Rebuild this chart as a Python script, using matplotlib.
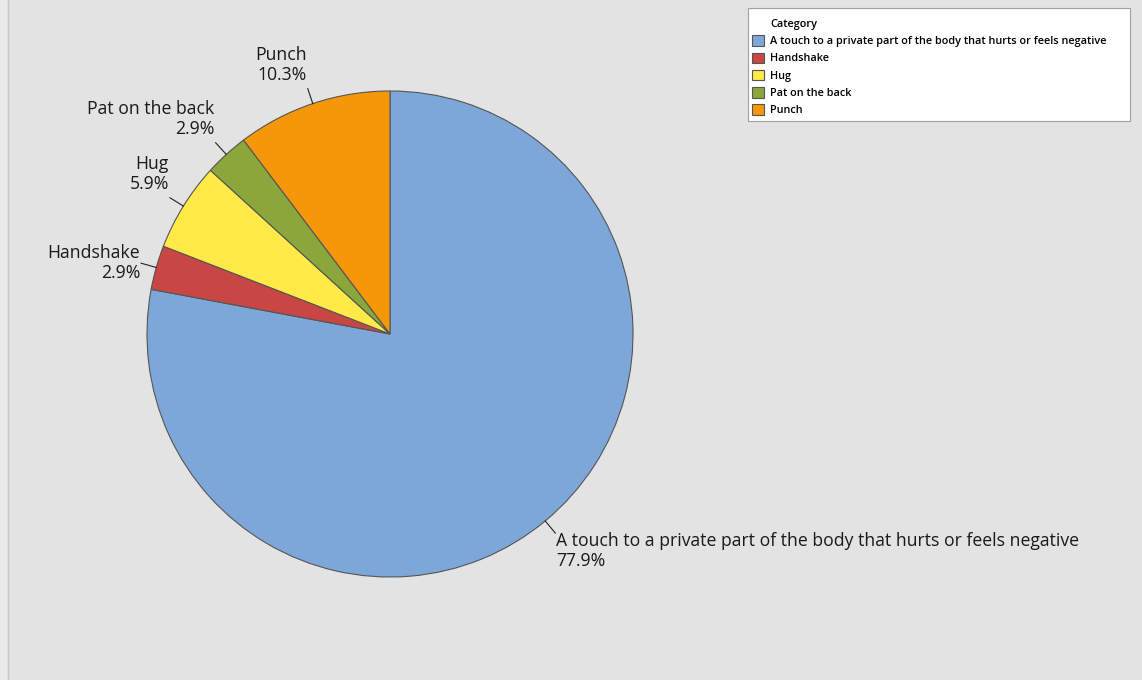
import matplotlib.pyplot as plt
import matplotlib.patches as mpatches
import numpy as np

plt.rcParams['font.family'] = ['Open Sans', 'DejaVu Sans']

# Counts per category
categories = ["A touch to a private part of the body that hurts or feels negative",
              "Handshake", "Hug", "Pat on the back", "Punch"]
counts = [53, 2, 4, 2, 7]
colors = ['#7DA7D9', '#C84744', '#FFEA47', '#8BA63A', '#F59709']

bg = '#E3E3E3'
W, H = 1142, 680
fig = plt.figure(figsize=(W / 100, H / 100), dpi=100)
fig.patch.set_facecolor(bg)

# thin lighter strip on the left edge
fig.patches.append(mpatches.Rectangle((0, 0), 7 / W, 1, transform=fig.transFigure,
                                      facecolor='#EAEAEA', edgecolor='none'))
fig.add_artist(plt.Line2D([7.5 / W, 7.5 / W], [0, 1], transform=fig.transFigure,
                          color='#C8C8C8', lw=1))

ax = fig.add_axes([147 / W, 103 / H, 486 / W, 486 / H])
ax.set_facecolor(bg)
wedges, _ = ax.pie(counts, colors=colors, startangle=90, counterclock=False,
                   wedgeprops=dict(edgecolor='#555555', linewidth=0.8))
ax.set_xlim(-1, 1)
ax.set_ylim(-1, 1)
ax.axis('off')

total = sum(counts)
for w, name, c in zip(wedges, categories, counts):
    ang = np.deg2rad((w.theta1 + w.theta2) / 2)
    dx, dy = np.cos(ang), np.sin(ang)
    x0, y0 = 1.0 * dx, 1.0 * dy
    x1, y1 = 1.065 * dx, 1.065 * dy
    ax.plot([x0, x1], [y0, y1], color='#222222', lw=0.8, clip_on=False)
    ha = 'left' if dx > 0 else 'right'
    if abs(dy) < 0.4:
        va = 'center'
        ty = y1
    elif dy > 0:
        va = 'bottom'
        ty = y1 + 0.02
    else:
        va = 'top'
        ty = y1 + 0.005
    tx = x1 + (0.002 if dx > 0 else -0.004)
    ax.text(tx, ty, f"{name}\n{100 * c / total:.1f}%", ha=ha, va=va,
            fontsize=12.7, color='#1A1A1A', linespacing=1.15, clip_on=False)

# legend box drawn separately so its size is fixed
fig.patches.append(mpatches.Rectangle((748 / W, 1 - 121 / H), 382 / W, 113 / H,
                                      transform=fig.transFigure, facecolor='white',
                                      edgecolor='#A0A0A0', linewidth=0.8))

# legend with the title placed in the text column
handles = [mpatches.Patch(facecolor='none', edgecolor='none')]
handles += [mpatches.Patch(facecolor=col, edgecolor='#555555', linewidth=0.8) for col in colors]
labels = ['Category'] + categories
leg = fig.legend(handles, labels, loc='upper left',
                 bbox_to_anchor=(752 / W, 1 - 18 / H),
                 prop=dict(size=7.8, weight='semibold'), frameon=False,
                 handlelength=1.1, handleheight=1.1, handletextpad=0.6,
                 labelspacing=0.5, borderpad=0, borderaxespad=0)

fig.savefig('out.png', dpi=100, facecolor=bg)
